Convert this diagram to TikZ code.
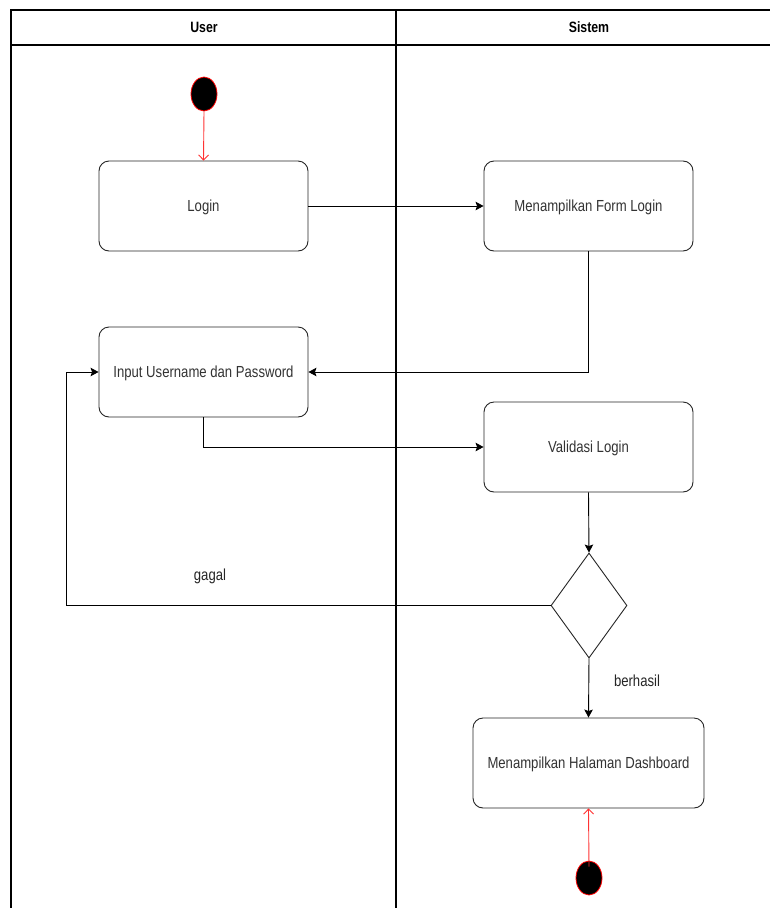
\documentclass[tikz,border=0pt]{standalone}
\usepackage{fontspec}
\setmainfont{Liberation Sans}[FakeStretch=0.82]
\usetikzlibrary{arrows.meta,shapes.geometric}
\begin{document}
\begin{tikzpicture}[x=1pt,y=-1pt,
  lane/.style={draw=black,line width=1.1pt},
  act/.style={draw=black!85,line width=0.9pt,rounded corners=10pt,minimum width=209pt,minimum height=90pt,align=center,font=\fontsize{16}{18}\selectfont,text=black!80,text depth=0pt},
  flow/.style={draw=black,line width=0.9pt,-{Stealth[length=8pt,width=8.5pt,inset=1.5pt]}},
  redflow/.style={draw=red!80,line width=0.9pt,-{Straight Barb[length=5pt,width=10pt]}},
  dot/.style={ellipse,fill=black,draw=red,line width=0.8pt,minimum width=26pt,minimum height=34pt,inner sep=0pt},
  dec/.style={diamond,draw=black!85,line width=0.9pt,minimum width=76pt,minimum height=105pt,inner sep=0pt,aspect=0.72},
  lbl/.style={font=\fontsize{16}{18}\selectfont,text=black!85},
  hdr/.style={font=\bfseries\fontsize{15}{17}\selectfont}]
\useasboundingbox (0,0) rectangle (770,908);
\fill[white] (0,0) rectangle (770,908);
% lanes
\draw[lane] (11,908) -- (11,10) -- (772,10);
\draw[lane] (11,45) -- (772,45);
\draw[lane] (396,10) -- (396,908);
\node[hdr] (hUser) at (204,27) {User};
\node[hdr] (hSis) at (589,27) {Sistem};
% nodes
\node[dot] (start) at (204,94) {};
\node[act] (login) at (203.5,206) {Login};
\node[act] (form) at (588.5,206) {Menampilkan Form Login};
\node[act] (input) at (203.5,372) {Input Username dan Password};
\node[act] (valid) at (588.5,447) {Validasi Login};
\node[dec] (cek) at (589,605.5) {};
\node[act,minimum width=231pt] (dash) at (588.5,763) {Menampilkan Halaman Dashboard};
\node[dot] (end) at (589,878) {};
\coordinate (lx) at (66,605.5);
% edges
\draw[redflow] (start.south) -- (login.north);
\draw[flow] (login.east) -- (form.west);
\draw[flow] (form.south) |- (input.east);
\draw[flow] (input.south) |- (valid.west);
\draw[flow] (valid.south) -- (cek.north);
\draw[flow] (cek.west) -- (lx) |- (input.west);
\draw[flow] (cek.south) -- (dash.north);
\draw[redflow] ([yshift=-6pt]end.north) -- (dash.south);
\node[lbl] (gagal) at (210,576) {gagal};
\node[lbl] (berhasil) at (637,681) {berhasil};
\end{tikzpicture}
\end{document}
